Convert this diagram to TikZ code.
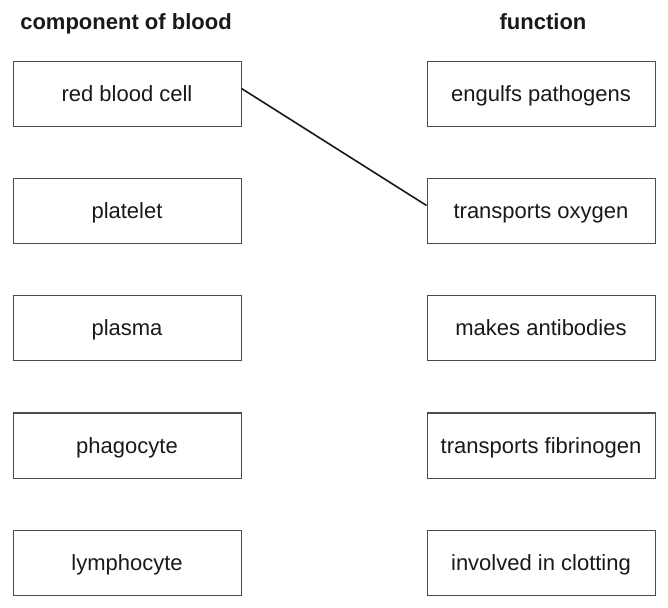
\documentclass[tikz,border=0pt]{standalone}
\usepackage{fontspec}
\setmainfont{Liberation Sans}
\usepackage{tikz}
\usetikzlibrary{positioning}

\begin{document}
\begin{tikzpicture}[x=0.5pt,y=-0.5pt,
    comp/.style={draw=black!70,line width=0.5pt,minimum width=114pt,minimum height=32.5pt,inner sep=0pt,text height=7.5pt,text depth=0pt,font=\fontsize{11}{13}\selectfont,text=black!90},
    head/.style={font=\fontsize{11}{13}\selectfont\bfseries,text height=7.5pt,text depth=0pt,text=black!90}]
    \useasboundingbox (0,0) rectangle (668,608);
    % headings
    \node [head] (hcomp) at (126,22) {component of blood};
    \node [head] (hfunc) at (543,22) {function};
    % components
    \node [comp] (rbc) at (127,94.5) {red blood cell};
    \node [comp] (platelet) at (127,211.5) {platelet};
    \node [comp] (plasma) at (127,328.5) {plasma};
    \node [comp] (phago) at (127,445.5) {phagocyte};
    \node [comp] (lympho) at (127,562.5) {lymphocyte};
    % functions
    \node [comp] (engulf) at (541,94.5) {engulfs pathogens};
    \node [comp] (oxygen) at (541,211.5) {transports oxygen};
    \node [comp] (antibody) at (541,328.5) {makes antibodies};
    \node [comp] (fibrin) at (541,445.5) {transports fibrinogen};
    \node [comp] (clot) at (541,562.5) {involved in clotting};
    % example answer
    \draw [line width=0.8pt,black!90] ([yshift=3pt]rbc.east) -- ([yshift=3pt]oxygen.west);
\end{tikzpicture}
\end{document}
